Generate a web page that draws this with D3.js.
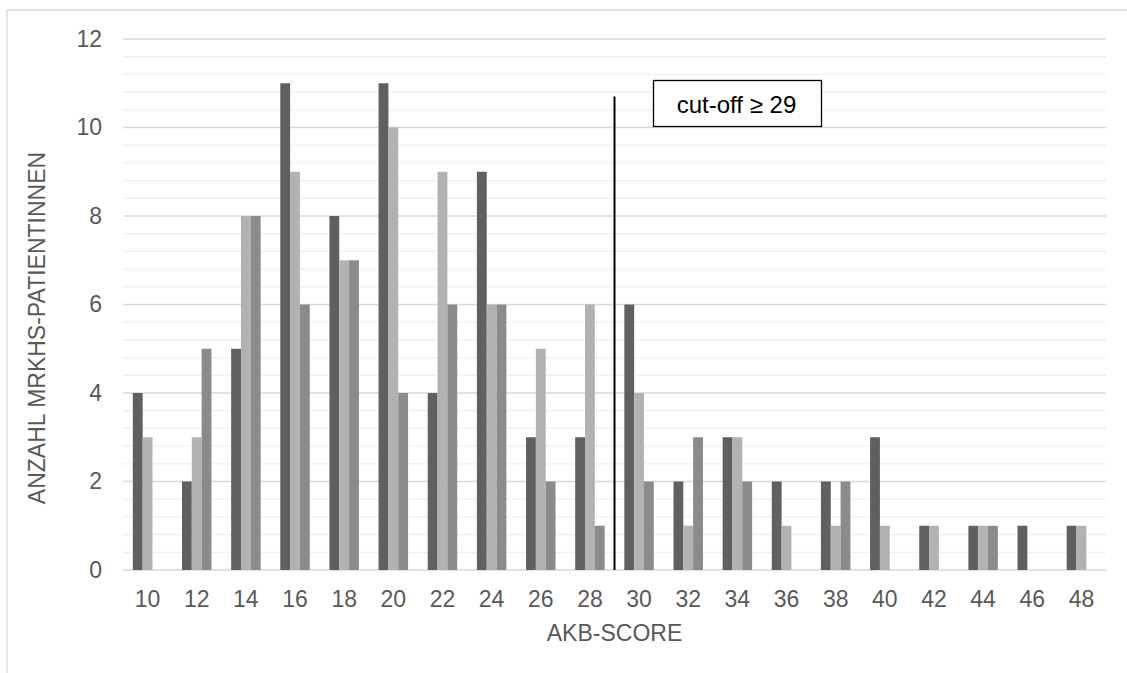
<!DOCTYPE html>
<html>
<head>
<meta charset="utf-8">
<script src="https://cdn.jsdelivr.net/npm/d3@7"></script>
<style>
  html, body { margin: 0; padding: 0; background: #fff; }
  svg { display: block; font-family: "Liberation Sans", Arial, sans-serif; }
</style>
</head>
<body>
<svg id="chart" width="1127" height="673"></svg>
<script>
// ---- data ----
const categories = ["10","12","14","16","18","20","22","24","26","28","30","32","34","36","38","40","42","44","46","48"];
const seriesA = [4, 2, 5, 11, 8, 11, 4, 9, 3, 3, 6, 2, 3, 2, 2, 3, 1, 1, 1, 1];
const seriesB = [3, 3, 8, 9, 7, 10, 9, 6, 5, 6, 4, 1, 3, 1, 1, 1, 1, 1, 0, 1];
const seriesC = [0, 5, 8, 6, 7, 4, 6, 6, 2, 1, 2, 3, 2, 0, 2, 0, 0, 1, 0, 0];
const yTicks = [0, 2, 4, 6, 8, 10, 12];
const cutoffLabel = "cut-off \u2265 29";
const cutoffTop = 10.7;
const xTitle = "AKB-SCORE";
const yTitle = "ANZAHL MRKHS-PATIENTINNEN";

const seriesList = [seriesA, seriesB, seriesC];
const colors = ["#606060", "#b2b2b2", "#8b8b8b"];

// ---- layout ----
const svg = d3.select("#chart");
const pL = 123, pR = 1106, pT = 39, pB = 570;
const FS = 23;
const textCol = "#595959";

const x = d3.scaleBand().domain(categories).range([pL, pR]).paddingInner(0.4).paddingOuter(0.2);
const xs = d3.scaleBand().domain([0, 1, 2]).range([0, x.bandwidth()]);
const y = d3.scaleLinear().domain([0, 12]).range([pB, pT]);

// outer border
svg.append("line").attr("x1", 7).attr("x2", 7).attr("y1", 10).attr("y2", 673).attr("stroke", "#d9d9d9").attr("stroke-width", 1.3);
svg.append("line").attr("x1", 7).attr("x2", 1127).attr("y1", 10).attr("y2", 10).attr("stroke", "#d9d9d9").attr("stroke-width", 1.3);

// minor gridlines
const minor = d3.range(0, 12.0001, 0.4).filter(v => Math.abs(v / 2 - Math.round(v / 2)) > 1e-6);
svg.append("g").selectAll("line").data(minor).join("line")
  .attr("x1", pL).attr("x2", pR)
  .attr("y1", d => y(d)).attr("y2", d => y(d))
  .attr("stroke", "#f0f0f0").attr("stroke-width", 1.3);

// major gridlines
svg.append("g").selectAll("line").data(yTicks).join("line")
  .attr("x1", pL).attr("x2", pR)
  .attr("y1", d => y(d)).attr("y2", d => y(d))
  .attr("stroke", "#d9d9d9").attr("stroke-width", 1.3);

// bars
seriesList.forEach((vals, si) => {
  svg.append("g").selectAll("rect").data(vals).join("rect")
    .attr("x", (d, i) => x(categories[i]) + xs(si))
    .attr("width", xs.bandwidth())
    .attr("y", d => y(d))
    .attr("height", d => y(0) - y(d))
    .attr("fill", colors[si]);
});

// y axis labels
const yAxis = d3.axisLeft(y).tickValues(yTicks).tickSize(0).tickPadding(21);
const gy = svg.append("g").attr("transform", `translate(${pL},0)`).call(yAxis);
gy.select(".domain").remove();
gy.selectAll("text").attr("font-size", FS).attr("fill", textCol).attr("font-family", "Liberation Sans, Arial, sans-serif");

// x axis labels
const xAxis = d3.axisBottom(x).tickSize(0).tickPadding(21);
const gx = svg.append("g").attr("transform", `translate(0,${pB})`).call(xAxis);
gx.select(".domain").remove();
gx.selectAll("text").attr("font-size", FS).attr("fill", textCol).attr("font-family", "Liberation Sans, Arial, sans-serif");

// axis titles
svg.append("text").attr("x", (pL + pR) / 2).attr("y", 641)
  .attr("text-anchor", "middle").attr("font-size", FS).attr("fill", textCol).text(xTitle);
svg.append("text").attr("transform", `translate(45,328) rotate(-90)`)
  .attr("text-anchor", "middle").attr("font-size", FS).attr("fill", textCol).text(yTitle);

// cut-off line
const cutX = (x("28") + x.bandwidth() + x("30")) / 2;
svg.append("line").attr("x1", cutX).attr("x2", cutX).attr("y1", y(cutoffTop)).attr("y2", y(0))
  .attr("stroke", "#000").attr("stroke-width", 2);

// cut-off box
const bx = 653.5, by = 80.5, bw = 168, bh = 46;
svg.append("rect").attr("x", bx).attr("y", by).attr("width", bw).attr("height", bh)
  .attr("fill", "#fff").attr("stroke", "#000").attr("stroke-width", 1.3);
svg.append("text").attr("x", bx + bw / 2 - 1).attr("y", 113)
  .attr("text-anchor", "middle").attr("font-size", 24).attr("fill", "#000").text(cutoffLabel);
</script>
</body>
</html>
